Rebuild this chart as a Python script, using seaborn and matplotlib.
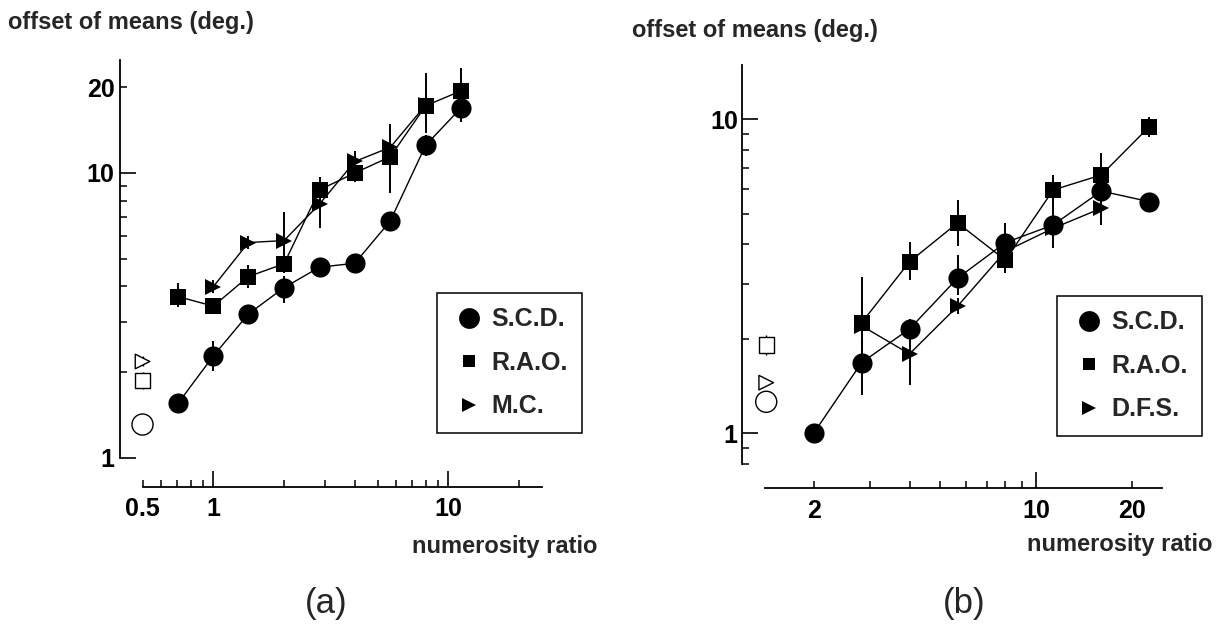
import numpy as np
import pandas as pd
import matplotlib
matplotlib.use("Agg")
import matplotlib.pyplot as plt
from matplotlib.lines import Line2D
import seaborn as sns

# ---------------- data: panel (a) ----------------
a_scd_x = [0.71, 1.0, 1.41, 2.0, 2.83, 4.0, 5.66, 8.0, 11.3]
a_scd_y = [1.56, 2.28, 3.2, 3.96, 4.67, 4.82, 6.79, 12.5, 16.9]
a_scd_lo = [1.48, 2.02, 3.0, 3.5, 4.45, 4.6, 6.45, 11.5, 15.1]
a_scd_hi = [1.64, 2.58, 3.4, 4.35, 4.9, 5.05, 7.1, 13.6, 18.5]

a_rao_x = [0.71, 1.0, 1.41, 2.0, 2.83, 4.0, 5.66, 8.0, 11.3]
a_rao_y = [3.68, 3.41, 4.33, 4.8, 8.72, 10.0, 11.4, 17.2, 19.4]
a_rao_lo = [3.38, 3.25, 3.94, 4.5, 8.0, 9.3, 8.5, 13.8, 17.0]
a_rao_hi = [4.1, 3.6, 4.75, 5.1, 9.7, 10.8, 12.5, 22.5, 23.3]

a_mc_x = [1.0, 1.41, 2.0, 2.83, 4.0, 5.66, 8.0]
a_mc_y = [3.99, 5.7, 5.79, 7.78, 10.97, 12.3, 17.3]
a_mc_lo = [3.8, 5.4, 4.46, 6.4, 10.0, 11.5, 15.5]
a_mc_hi = [4.2, 6.0, 7.3, 8.5, 11.9, 14.9, 19.5]

a_open_x = 0.5
a_open_circle = 1.31
a_open_square = 1.87
a_open_square_err = [1.75, 2.0]
a_open_tri = 2.18
a_open_tri_err = [2.1, 2.27]

# ---------------- data: panel (b) ----------------
b_scd_x = [2.0, 2.83, 4.0, 5.66, 8.0, 11.3, 16.0, 22.6]
b_scd_y = [1.0, 1.68, 2.15, 3.12, 4.05, 4.61, 5.91, 5.47]
b_scd_lo = [0.95, 1.32, 2.0, 2.76, 3.5, 3.88, 5.5, 5.2]
b_scd_hi = [1.05, 2.0, 2.32, 3.7, 4.66, 5.4, 6.4, 5.75]

b_rao_x = [2.83, 4.0, 5.66, 8.0, 11.3, 16.0, 22.6]
b_rao_y = [2.25, 3.52, 4.68, 3.56, 5.96, 6.65, 9.47]
b_rao_lo = [1.7, 3.08, 3.95, 3.23, 5.3, 5.8, 8.76]
b_rao_hi = [3.15, 4.07, 5.53, 3.9, 6.65, 7.83, 10.2]

b_dfs_x = [2.83, 4.0, 5.66, 8.0, 11.3, 16.0]
b_dfs_y = [2.2, 1.79, 2.54, 3.8, 4.5, 5.21]
b_dfs_lo = [2.05, 1.43, 2.4, 3.6, 4.3, 4.61]
b_dfs_hi = [2.35, 2.2, 2.7, 4.0, 4.7, 5.8]

b_open_x = 1.42
b_open_circle = 1.26
b_open_square = 1.91
b_open_square_err = [1.78, 2.05]
b_open_tri = 1.45
b_open_tri_err = [1.42, 1.48]

labels_a = ["S.C.D.", "R.A.O.", "M.C."]
labels_b = ["S.C.D.", "R.A.O.", "D.F.S."]

# ---------------- style ----------------
sns.set_theme(style="ticks")
plt.rcParams["font.family"] = ["Liberation Sans", "DejaVu Sans"]
plt.rcParams["font.weight"] = "bold"

W, H = 1222, 625
fig = plt.figure(figsize=(W / 100, H / 100), dpi=100)
fig.patch.set_facecolor("white")


def rect(left, right, top, bottom):
    return [left / W, 1 - bottom / H, (right - left) / W, (bottom - top) / H]


ax_a = fig.add_axes(rect(120, 542, 60, 487))
ax_b = fig.add_axes(rect(742, 1162, 65, 488.3))

MS = {"o": 14.5, "s": 11.0, ">": 11.0}


def series(ax, xs, ys, lo, hi, marker):
    df = pd.DataFrame({"x": xs, "y": ys})
    sns.lineplot(data=df, x="x", y="y", ax=ax, color="black", linewidth=1.0,
                 marker=marker, markersize=MS[marker], markeredgewidth=0,
                 estimator=None, sort=False, zorder=3)
    ax.vlines(xs, lo, hi, colors="black", linewidth=1.4, zorder=2)


def open_markers(ax, x, yc, ys, ysq_err, yt, yt_err):
    df = pd.DataFrame({"x": [x, x, x], "y": [yc, ys, yt], "m": ["o", "s", ">"]})
    sns.scatterplot(data=df, x="x", y="y", style="m",
                    markers={"o": "o", "s": "s", ">": ">"},
                    size="m", sizes={"o": 230, "s": 120, ">": 110},
                    facecolor="white", edgecolor="black", linewidth=1.0,
                    legend=False, ax=ax, zorder=4)
    ax.vlines([x, x], [ysq_err[0], yt_err[0]], [ysq_err[1], yt_err[1]],
              colors="black", linewidth=1.0, zorder=2)


# panel (a)
series(ax_a, a_scd_x, a_scd_y, a_scd_lo, a_scd_hi, "o")
series(ax_a, a_rao_x, a_rao_y, a_rao_lo, a_rao_hi, "s")
series(ax_a, a_mc_x, a_mc_y, a_mc_lo, a_mc_hi, ">")
open_markers(ax_a, a_open_x, a_open_circle, a_open_square, a_open_square_err,
             a_open_tri, a_open_tri_err)

# panel (b)
series(ax_b, b_scd_x, b_scd_y, b_scd_lo, b_scd_hi, "o")
series(ax_b, b_rao_x, b_rao_y, b_rao_lo, b_rao_hi, "s")
series(ax_b, b_dfs_x, b_dfs_y, b_dfs_lo, b_dfs_hi, ">")
open_markers(ax_b, b_open_x, b_open_circle, b_open_square, b_open_square_err,
             b_open_tri, b_open_tri_err)

for ax in (ax_a, ax_b):
    ax.set_xscale("log")
    ax.set_yscale("log")
    ax.set_xlabel("")
    ax.set_ylabel("")
    ax.set_facecolor("none")
    ax.spines["top"].set_visible(False)
    ax.spines["right"].set_visible(False)
    for s in ("left", "bottom"):
        ax.spines[s].set_linewidth(1.3)
        ax.spines[s].set_color("black")
    ax.tick_params(which="major", direction="in", length=11.5, width=1.2,
                   labelsize=18, colors="black")
    ax.tick_params(which="minor", direction="in", length=5, width=1.1,
                   labelsize=18, colors="black")

# axis (a) limits & ticks
ax_a.set_xlim(0.401, 25.0)
ax_a.set_ylim(0.791, 24.9)
ax_a.spines["left"].set_bounds(1, 24.9)
ax_a.spines["bottom"].set_bounds(0.5, 25.0)
ax_a.set_xticks([1, 10], ["1", "10"])
xa_minor = [0.5, 0.6, 0.7, 0.8, 0.9, 2, 3, 4, 5, 6, 7, 8, 9, 20]
ax_a.set_xticks(xa_minor, ["0.5"] + [""] * (len(xa_minor) - 1), minor=True)
ax_a.set_yticks([1, 10], ["1", "10"])
ya_minor = [2, 3, 4, 5, 6, 7, 8, 9, 20]
ax_a.set_yticks(ya_minor, [""] * 8 + ["20"], minor=True)
ax_a.tick_params(axis="x", which="both", pad=7)
ax_a.tick_params(axis="y", which="both", pad=4)

# axis (b) limits & ticks
ax_b.set_xlim(1.192, 24.8)
ax_b.set_ylim(0.668, 14.9)
ax_b.spines["left"].set_bounds(0.8, 14.9)
ax_b.spines["bottom"].set_bounds(1.41, 24.8)
ax_b.set_xticks([10], ["10"])
xb_minor = [2, 3, 4, 5, 6, 7, 8, 9, 20]
ax_b.set_xticks(xb_minor, ["2"] + [""] * 7 + ["20"], minor=True)
ax_b.set_yticks([1, 10], ["1", "10"])
yb_minor = [0.8, 0.9, 2, 3, 4, 5, 6, 7, 8, 9]
ax_b.set_yticks(yb_minor, [""] * len(yb_minor), minor=True)
ax_b.tick_params(axis="x", which="both", pad=8)
ax_b.tick_params(axis="y", which="both", pad=3)

# legends
def make_legend(ax, labels, x0, y0):
    handles = [Line2D([], [], marker="o", markersize=15, color="black", linestyle="None", markeredgewidth=0),
               Line2D([], [], marker="s", markersize=9, color="black", linestyle="None", markeredgewidth=0),
               Line2D([], [], marker=">", markersize=10, color="black", linestyle="None", markeredgewidth=0)]
    leg = ax.legend(handles, labels, loc="upper left",
                    bbox_to_anchor=(x0 / W, 1 - y0 / H), bbox_transform=fig.transFigure,
                    frameon=True, fancybox=False, edgecolor="black", framealpha=1,
                    borderpad=0.57, labelspacing=0.78, handlelength=1.42,
                    handletextpad=0.2, borderaxespad=0,
                    prop={"size": 18, "weight": "bold"})
    leg.get_frame().set_linewidth(1.1)
    return leg

make_legend(ax_a, labels_a, 437, 293)
make_legend(ax_b, labels_b, 1057, 296)

# texts
fs_lab = 17
fig.text(8 / W, 1 - 22 / H, "offset of means (deg.)", ha="left", va="center",
         fontsize=fs_lab, fontweight="bold")
fig.text(632 / W, 1 - 30 / H, "offset of means (deg.)", ha="left", va="center",
         fontsize=fs_lab, fontweight="bold")
fig.text(412 / W, 1 - 546 / H, "numerosity ratio", ha="left", va="center",
         fontsize=17, fontweight="bold")
fig.text(1027 / W, 1 - 545 / H, "numerosity ratio", ha="left", va="center",
         fontsize=17, fontweight="bold")
fig.text(326 / W, 1 - 604 / H, "(a)", ha="center", va="center",
         fontsize=25, fontweight="normal")
fig.text(964 / W, 1 - 604 / H, "(b)", ha="center", va="center",
         fontsize=25, fontweight="normal")

fig.savefig("out.png", dpi=100, facecolor="white")
